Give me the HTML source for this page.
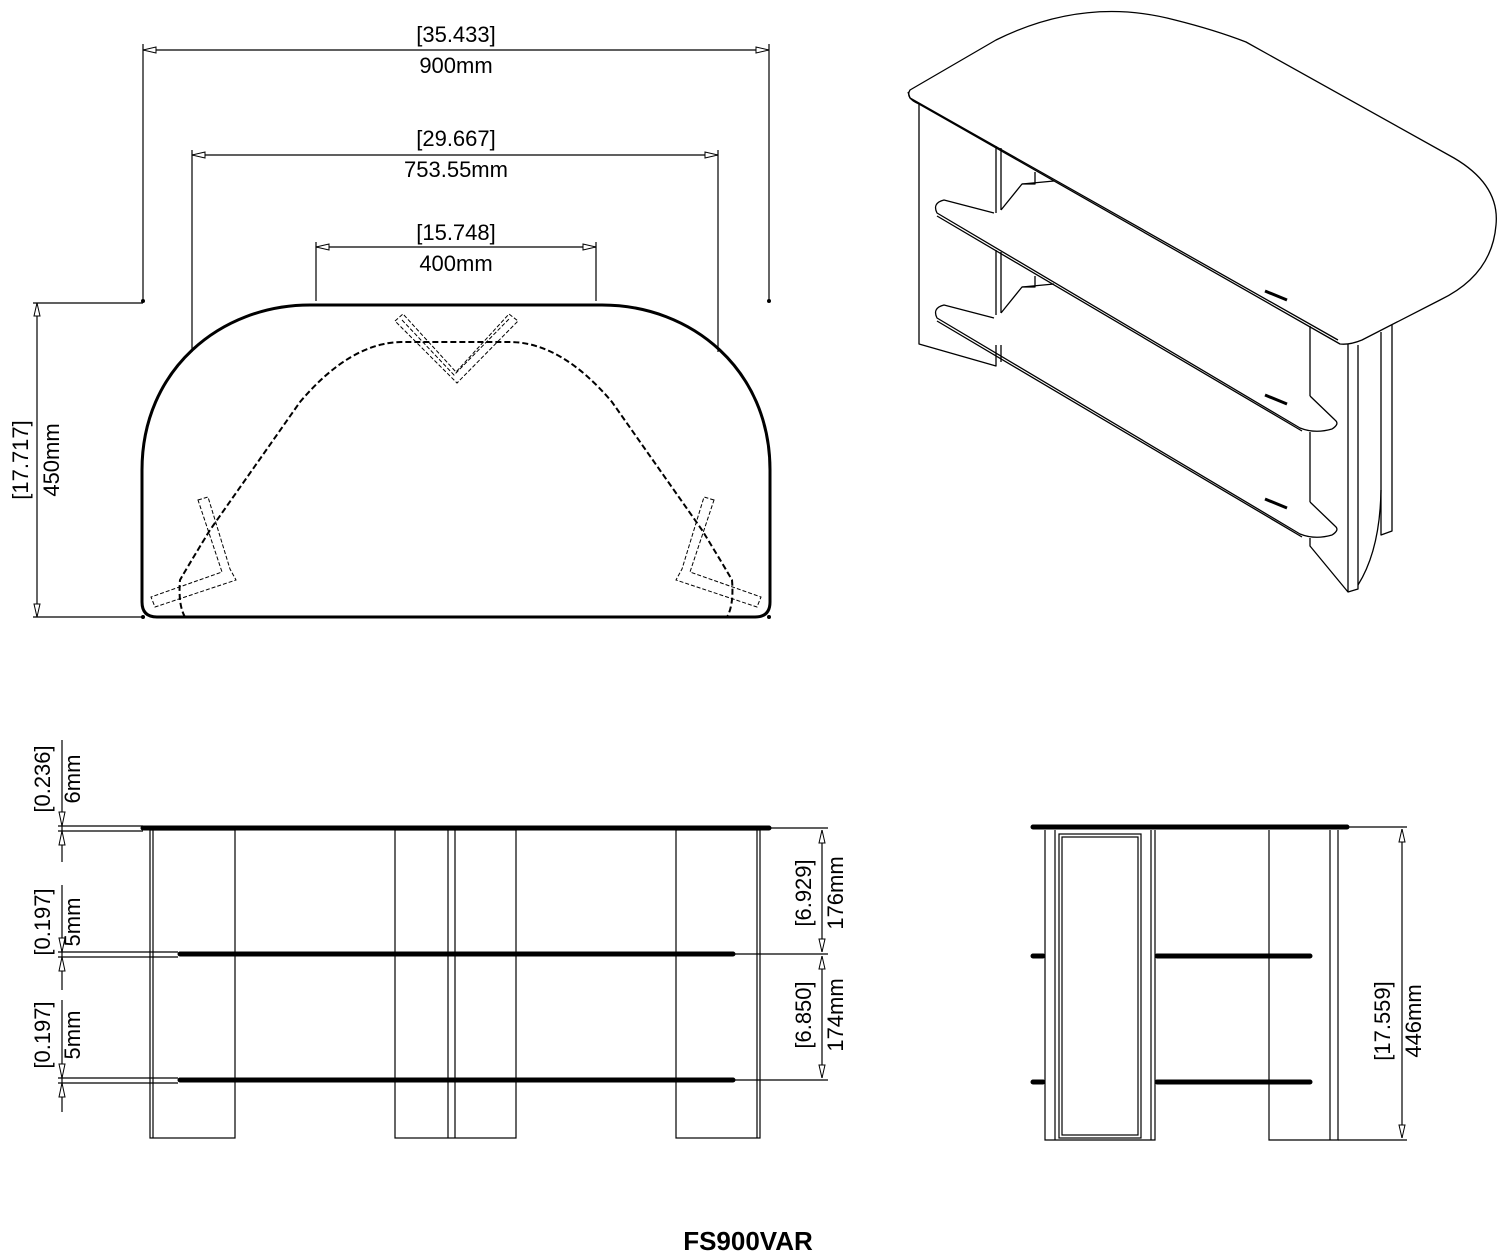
<!DOCTYPE html>
<html><head><meta charset="utf-8"><style>
html,body{margin:0;padding:0;background:#fff;}
svg{display:block;}
text{font-family:"Liberation Sans",sans-serif;fill:#000;}
</style></head><body>
<svg width="1500" height="1256" viewBox="0 0 1500 1256" xmlns="http://www.w3.org/2000/svg">
<defs>
<marker id="a" viewBox="0 0 14 8" refX="14" refY="4" markerWidth="14" markerHeight="8" markerUnits="userSpaceOnUse" orient="auto-start-reverse">
<path d="M14,4 L1,1 L1,7 Z" fill="#fff" stroke="#000" stroke-width="1"/>
</marker>
</defs>
<g fill="none" stroke="#000" stroke-width="1.2">
<line x1="143" y1="44" x2="143" y2="301"/><line x1="769" y1="44" x2="769" y2="301"/>
<line x1="143" y1="50" x2="769" y2="50" marker-start="url(#a)" marker-end="url(#a)"/>
<line x1="192" y1="150" x2="192" y2="352"/><line x1="718" y1="150" x2="718" y2="352"/>
<line x1="192" y1="155" x2="718" y2="155" marker-start="url(#a)" marker-end="url(#a)"/>
<line x1="316" y1="242" x2="316" y2="301"/><line x1="596" y1="242" x2="596" y2="301"/>
<line x1="316" y1="247" x2="596" y2="247" marker-start="url(#a)" marker-end="url(#a)"/>
<line x1="33" y1="303" x2="143" y2="303"/><line x1="33" y1="617" x2="143" y2="617"/>
<line x1="37" y1="303" x2="37" y2="617" marker-start="url(#a)" marker-end="url(#a)"/>
</g>
<g fill="#000"><circle cx="143" cy="301" r="2"/><circle cx="769" cy="301" r="2"/><circle cx="143" cy="617" r="2"/><circle cx="769" cy="617" r="2"/></g>
<g font-size="22" text-anchor="middle">
<text x="456" y="42">[35.433]</text><text x="456" y="73">900mm</text>
<text x="456" y="146">[29.667]</text><text x="456" y="177">753.55mm</text>
<text x="456" y="240">[15.748]</text><text x="456" y="271">400mm</text>
<text transform="translate(28,460) rotate(-90)">[17.717]</text>
<text transform="translate(59,460) rotate(-90)">450mm</text>
</g>
<path d="M157,617 Q142,617 142,602 L142,470 C142,370 220,305 310,305 L602,305 C692,305 770,370 770,470 L770,602 Q770,617 755,617 Z" fill="none" stroke="#000" stroke-width="3"/>
<path d="M185,617 Q178,605 180,580 Q188,566 210,530 L300,402 Q350,343 401,342 L511,342 Q562,343 612,402 L702,530 Q724,566 732,580 Q734,605 727,617" fill="none" stroke="#000" stroke-width="2" stroke-dasharray="6,3"/>
<g fill="none" stroke="#000" stroke-width="1" stroke-dasharray="4,2">
<polygon points="395,321 403,314 456,372 509,314 518,321 457,383"/>
<polyline points="402,320 454,375 510,318"/>
<polygon points="198,500 208,497 230,569 236,580 155,607 151,597 222,572"/>
<polygon points="714,500 704,497 682,569 676,580 757,607 761,597 690,572"/>
</g>
<!-- isometric view -->
<g fill="none" stroke="#000" stroke-width="1.3" stroke-linejoin="round">
<path d="M919,104 Q905,98 910,90 L996,40 Q1085,-4 1175,20 Q1215,30 1246,42 L1454,158 Q1500,185 1496,225 Q1492,275 1440,300 L1362,340 Q1350,345 1340,344 L919,104 Z"/>
<path d="M908,92 L910,98 L1338,340"/>
<path d="M919,104 L919,344 L996,366 L996,345"/>
<line x1="996" y1="146" x2="996" y2="213"/><line x1="1001" y1="148" x2="1001" y2="210"/>
<line x1="996" y1="250" x2="996" y2="315"/><line x1="1001" y1="252" x2="1001" y2="313"/>
<line x1="1001" y1="345" x2="1001" y2="362"/>
<path d="M1035,172 L1035,184 L1022,184 L1001,210"/><line x1="1022" y1="184" x2="1054" y2="181"/>
<path d="M1035,276 L1035,287 L1022,287 L1001,313"/><line x1="1022" y1="287" x2="1054" y2="284"/>
<!-- shelf 1 -->
<path d="M994,213 L944,200 Q932,203 937,213 L1300,428 Q1315,434 1332,429 Q1340,424 1335,420 L1310,396"/>
<path d="M937,216 L1302,431"/>
<!-- shelf 2 -->
<path d="M994,318 L944,305 Q932,308 937,318 L1300,534 Q1315,540 1332,535 Q1340,530 1335,526 L1310,502"/>
<path d="M937,321 L1302,537"/>
<!-- right legs -->
<path d="M1310,326 L1310,396"/><path d="M1310,432 L1310,502"/><path d="M1310,538 L1310,546 L1348,592 L1358,589 L1358,345"/>
<line x1="1348" y1="344" x2="1348" y2="592"/>
<path d="M1381,332 L1381,535 L1392,531 L1392,325"/>
<path d="M1381,490 Q1380,550 1358,585"/>
</g>
<g stroke="#000" stroke-width="3">
<line x1="1265" y1="291" x2="1287" y2="300"/><line x1="1265" y1="395" x2="1287" y2="404"/><line x1="1265" y1="499" x2="1287" y2="508"/>
</g>
<!-- front view -->
<g fill="none" stroke="#000" stroke-width="1.2">
<rect x="150" y="830" width="85" height="308"/><line x1="153" y1="830" x2="153" y2="1138"/>
<rect x="395" y="830" width="121" height="308"/><line x1="448" y1="830" x2="448" y2="1138"/><line x1="455" y1="830" x2="455" y2="1138"/>
<rect x="676" y="830" width="84" height="308"/><line x1="757" y1="830" x2="757" y2="1138"/>
<line x1="62" y1="740" x2="62" y2="862"/>
<line x1="62" y1="885" x2="62" y2="990"/>
<line x1="62" y1="1000" x2="62" y2="1112"/>
<line x1="58" y1="826" x2="143" y2="826"/><line x1="58" y1="831" x2="143" y2="831"/>
<line x1="58" y1="952" x2="178" y2="952"/><line x1="58" y1="957" x2="178" y2="957"/>
<line x1="58" y1="1078" x2="178" y2="1078"/><line x1="58" y1="1083" x2="178" y2="1083"/>
<line x1="769" y1="828" x2="828" y2="828"/><line x1="733" y1="954" x2="828" y2="954"/><line x1="733" y1="1080" x2="828" y2="1080"/>
<line x1="822" y1="830" x2="822" y2="952" marker-start="url(#a)" marker-end="url(#a)"/>
<line x1="822" y1="956" x2="822" y2="1078" marker-start="url(#a)" marker-end="url(#a)"/>
</g>
<g>
<path d="M62,826 l-3,-14 l6,0 Z" fill="#fff" stroke="#000"/><path d="M62,831 l-3,14 l6,0 Z" fill="#fff" stroke="#000"/>
<path d="M62,952 l-3,-14 l6,0 Z" fill="#fff" stroke="#000"/><path d="M62,957 l-3,14 l6,0 Z" fill="#fff" stroke="#000"/>
<path d="M62,1078 l-3,-14 l6,0 Z" fill="#fff" stroke="#000"/><path d="M62,1083 l-3,14 l6,0 Z" fill="#fff" stroke="#000"/>
</g>
<g stroke="#000" stroke-linecap="round">
<line x1="143" y1="828" x2="769" y2="828" stroke-width="5"/>
<line x1="180" y1="954" x2="733" y2="954" stroke-width="5"/>
<line x1="180" y1="1080" x2="733" y2="1080" stroke-width="5"/>
</g>
<g font-size="22" text-anchor="middle">
<text transform="translate(50,779) rotate(-90)">[0.236]</text><text transform="translate(80,779) rotate(-90)">6mm</text>
<text transform="translate(50,922) rotate(-90)">[0.197]</text><text transform="translate(80,922) rotate(-90)">5mm</text>
<text transform="translate(50,1035) rotate(-90)">[0.197]</text><text transform="translate(80,1035) rotate(-90)">5mm</text>
<text transform="translate(811,893) rotate(-90)">[6.929]</text><text transform="translate(843,893) rotate(-90)">176mm</text>
<text transform="translate(811,1015) rotate(-90)">[6.850]</text><text transform="translate(843,1015) rotate(-90)">174mm</text>
</g>
<!-- side view -->
<g fill="none" stroke="#000" stroke-width="1.2">
<path d="M1045,830 L1045,1140 L1155,1140 L1155,830"/><line x1="1055" y1="830" x2="1055" y2="1140"/><line x1="1151" y1="830" x2="1151" y2="1140"/>
<rect x="1059" y="834" width="82" height="304"/><rect x="1062" y="837" width="76" height="298"/>
<path d="M1269,830 L1269,1140 L1338,1140 L1338,830"/><line x1="1330" y1="830" x2="1330" y2="1140"/>
<line x1="1338" y1="827" x2="1407" y2="827"/><line x1="1338" y1="1140" x2="1407" y2="1140"/>
<line x1="1402" y1="829" x2="1402" y2="1138" marker-start="url(#a)" marker-end="url(#a)"/>
</g>
<g stroke="#000" stroke-linecap="round">
<line x1="1033" y1="827" x2="1347" y2="827" stroke-width="5"/>
<line x1="1033" y1="956" x2="1043" y2="956" stroke-width="5"/><line x1="1157" y1="956" x2="1310" y2="956" stroke-width="5"/>
<line x1="1033" y1="1082" x2="1043" y2="1082" stroke-width="5"/><line x1="1157" y1="1082" x2="1310" y2="1082" stroke-width="5"/>
</g>
<g font-size="22" text-anchor="middle">
<text transform="translate(1390,1021) rotate(-90)">[17.559]</text><text transform="translate(1421,1021) rotate(-90)">446mm</text>
</g>
<text x="748" y="1250" font-size="26" font-weight="bold" text-anchor="middle">FS900VAR</text>
</svg>
</body></html>
